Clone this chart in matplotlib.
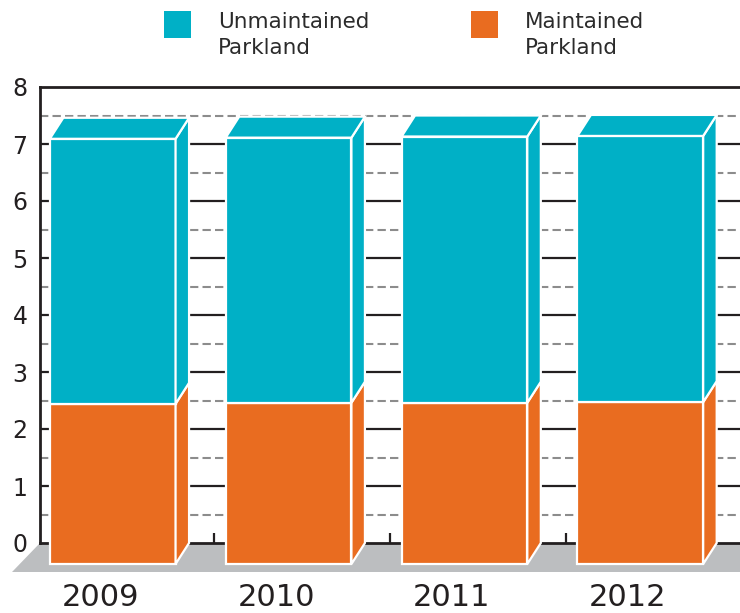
import matplotlib.pyplot as plt
from matplotlib.patches import Polygon, Rectangle
import matplotlib.transforms as mtransforms

# parkland area, stacked: maintained at the bottom, unmaintained on top
years = ['2009', '2010', '2011', '2012']
maintained = [2.81, 2.83, 2.83, 2.84]
unmaintained = [4.65, 4.65, 4.67, 4.67]
series_labels = ['Unmaintained\nParkland', 'Maintained\nParkland']

teal = '#00B0C6'
orange = '#E96C20'
floor_gray = '#BCBEC0'
txt = '#231F20'

plt.rcParams['font.family'] = 'DejaVu Sans'

fig = plt.figure(figsize=(7.4, 6.13), dpi=100)
ax = fig.add_axes([40 / 740, 70 / 613, 700 / 740, 456 / 613])
ax.set_xlim(-0.49, 3.49)
ax.set_ylim(0, 8)

# fake 3d depth (data units)
dx = 13.5 / 176
dy = 21 / 57
w = 0.715

# back wall grid
for y in range(1, 8):
    ax.axhline(y, color=txt, lw=1.6, zorder=0.5)
for k in range(8):
    ax.axhline(k + 0.5, color='#8C8C8C', lw=1.5, ls=(0, (4, 2)), zorder=0.5)

# floor
fx = 28 / 176
fy = 29 / 57
ax.add_patch(Polygon([(-0.49, 0), (3.7, 0), (3.7 - fx, -fy), (-0.49 - fx, -fy)],
                     closed=True, facecolor=floor_gray, edgecolor='none',
                     clip_on=False, zorder=1))


def box(xc, y0, y1, color, top):
    x0, x1 = xc - w / 2, xc + w / 2
    faces = [
        [(x0 - dx, y0 - dy), (x1 - dx, y0 - dy), (x1 - dx, y1 - dy), (x0 - dx, y1 - dy)],
        [(x1 - dx, y0 - dy), (x1, y0), (x1, y1), (x1 - dx, y1 - dy)],
    ]
    if top:
        faces.append([(x0 - dx, y1 - dy), (x0, y1), (x1, y1), (x1 - dx, y1 - dy)])
    for f in faces:
        ax.add_patch(Polygon(f, closed=True, facecolor=color, edgecolor='white',
                             lw=1.6, joinstyle='miter', clip_on=False, zorder=4))


for i in range(len(years)):
    box(i, 0, maintained[i], orange, False)
    box(i, maintained[i], maintained[i] + unmaintained[i], teal, True)

for s in ['left', 'top', 'bottom']:
    ax.spines[s].set_linewidth(2)
    ax.spines[s].set_color(txt)
    ax.spines[s].set_zorder(2)
ax.spines['right'].set_visible(False)

ax.set_yticks(range(9))
ax.tick_params(axis='y', length=0, pad=9, labelsize=17, labelcolor=txt)
ax.set_xticks([0.5, 1.5, 2.5])
ax.tick_params(axis='x', direction='in', length=7, width=1.6, color=txt,
               labelbottom=False)

trans = mtransforms.blended_transform_factory(ax.transData, ax.transAxes)
for i, yr in enumerate(years):
    ax.text(i - dx - 0.071, -0.12, yr, transform=trans, ha='center', va='center',
            fontsize=22, color=txt)

# legend, drawn by hand so the swatch sits level with the first line
W, H = 740, 613
for lab, col, xs in zip(series_labels, [teal, orange], [164, 471]):
    fig.add_artist(Rectangle((xs / W, 1 - 38 / H), 27 / W, 27 / H,
                             transform=fig.transFigure, facecolor=col,
                             edgecolor='none'))
    fig.text((xs + 54) / W, 1 - 12 / H, lab, ha='left', va='top',
             fontsize=15.5, linespacing=1.38, color='#2B2B2B')

fig.savefig('out.png', dpi=100)
